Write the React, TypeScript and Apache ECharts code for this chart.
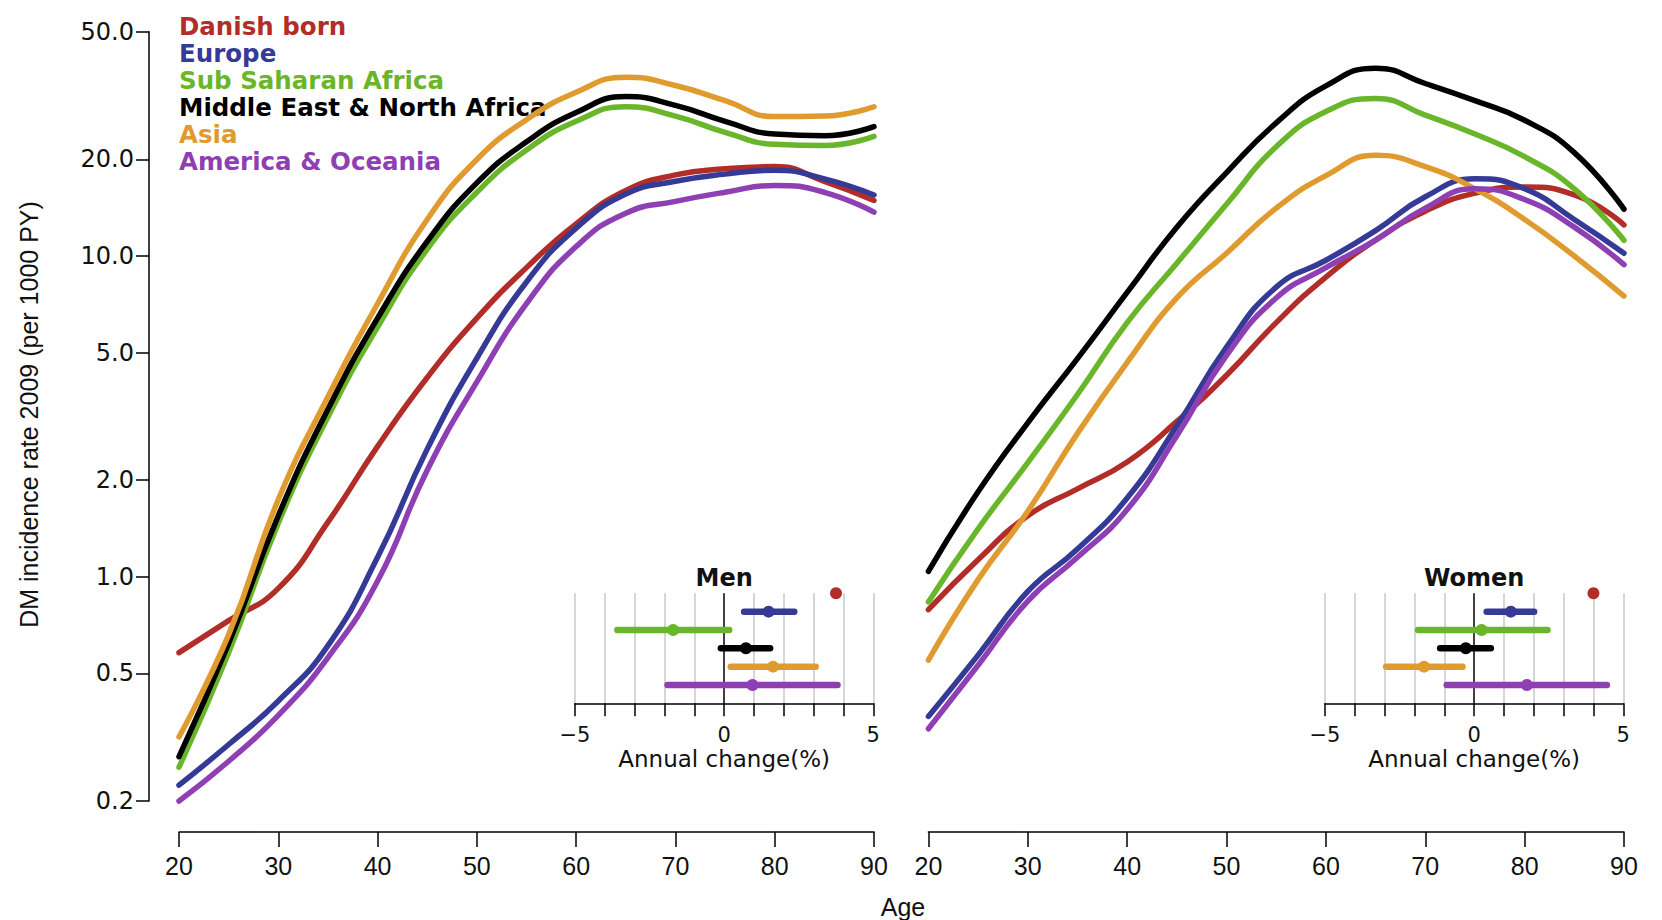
import React, { useEffect, useRef } from 'react';
import * as echarts from 'echarts';

// ---------- data ----------
const ages = [20, 25, 30, 35, 40, 45, 50, 55, 60, 65, 70, 75, 80, 85, 90];

const groupNames = [
  'Danish born',
  'Europe',
  'Sub Saharan Africa',
  'Middle East & North Africa',
  'Asia',
  'America & Oceania',
];
const groupColors = ['#B22D28', '#343A96', '#6AB62A', '#000000', '#E09B30', '#8E3FB3'];

// Men: DM incidence rate 2009 (per 1000 PY)
const menDanish = [0.58, 0.73, 0.92, 1.48, 2.55, 4.18, 6.4, 9.2, 12.6, 16.0, 17.9, 18.7, 19.0, 17.1, 14.9];
const menEurope = [0.224, 0.3, 0.41, 0.61, 1.15, 2.5, 4.8, 8.3, 12.2, 15.6, 17.1, 18.0, 18.5, 17.4, 15.5];
const menSSA = [0.255, 0.58, 1.47, 3.15, 6.0, 10.5, 15.8, 21.4, 26.3, 29.2, 27.3, 24.3, 22.3, 22.1, 23.6];
const menMENA = [0.275, 0.62, 1.55, 3.33, 6.4, 11.1, 16.9, 22.7, 28.0, 31.4, 29.5, 26.3, 24.0, 23.7, 25.3];
const menAsia = [0.317, 0.66, 1.74, 3.64, 7.1, 13.0, 20.0, 26.6, 32.4, 36.1, 34.0, 30.5, 27.2, 27.3, 29.2];
const menAmerica = [0.2, 0.266, 0.37, 0.56, 0.97, 2.15, 4.05, 7.1, 10.7, 13.6, 14.8, 15.8, 16.6, 15.8, 13.7];

// Women
const womenDanish = [0.79, 1.13, 1.55, 1.88, 2.28, 3.05, 4.25, 6.2, 8.6, 11.2, 13.8, 15.7, 16.4, 15.5, 12.5];
const womenEurope = [0.367, 0.57, 0.9, 1.22, 1.76, 2.95, 5.2, 8.0, 9.7, 12.0, 15.3, 17.4, 16.2, 13.0, 10.2];
const womenSSA = [0.835, 1.41, 2.27, 3.7, 6.2, 9.5, 14.5, 21.9, 28.2, 31.0, 27.5, 24.0, 20.4, 16.2, 11.2];
const womenMENA = [1.04, 1.84, 3.02, 4.79, 7.7, 12.3, 18.2, 26.0, 33.9, 38.5, 34.5, 30.5, 26.5, 21.0, 14.0];
const womenAsia = [0.55, 0.98, 1.6, 2.8, 4.66, 7.4, 10.2, 14.1, 17.8, 20.6, 19.0, 16.2, 13.0, 10.0, 7.5];
const womenAmerica = [0.336, 0.53, 0.84, 1.15, 1.62, 2.75, 4.9, 7.4, 9.2, 11.2, 14.1, 16.2, 15.0, 12.3, 9.4];

const menSeries = [menDanish, menEurope, menSSA, menMENA, menAsia, menAmerica];
const womenSeries = [womenDanish, womenEurope, womenSSA, womenMENA, womenAsia, womenAmerica];

// Annual change (%) with confidence intervals, rows in legend order
const menEst = [3.75, 1.49, -1.71, 0.73, 1.64, 0.95];
const menLo = [3.75, 0.67, -3.58, -0.11, 0.22, -1.9];
const menHi = [3.75, 2.35, 0.17, 1.54, 3.07, 3.8];
const womenEst = [4.0, 1.23, 0.25, -0.28, -1.68, 1.77];
const womenLo = [4.0, 0.42, -1.88, -1.14, -2.95, -0.92];
const womenHi = [4.0, 2.01, 2.46, 0.56, -0.39, 4.45];

const yTicks = [0.2, 0.5, 1, 2, 5, 10, 20, 50];

// ---------- option ----------
const black = '#000';
const axisLineStyle = { color: black, width: 1.5 };

function mainXAxis(gridIndex: number) {
  return {
    type: 'value',
    gridIndex,
    min: 20,
    max: 90,
    interval: 10,
    offset: 31,
    axisLine: { show: true, onZero: false, lineStyle: axisLineStyle },
    axisTick: { show: true, inside: false, length: 15, lineStyle: axisLineStyle },
    axisLabel: {
      show: true,
      margin: 21,
      fontSize: 25,
      fontFamily: 'Liberation Sans',
      color: '#111',
      hideOverlap: false,
      showMinLabel: true,
      showMaxLabel: true,
    },
    splitLine: { show: false },
  };
}

function mainYAxis(gridIndex: number, show: boolean) {
  return {
    type: 'log',
    logBase: 10,
    gridIndex,
    min: 0.2,
    max: 50,
    offset: 30,
    show,
    axisLine: { show: true, onZero: false, lineStyle: axisLineStyle },
    axisTick: { show: true, length: 13, customValues: yTicks, lineStyle: axisLineStyle },
    axisLabel: {
      show: true,
      customValues: yTicks,
      formatter: (v: number) => Number(v).toFixed(1),
      margin: 15,
      fontSize: 24,
      fontFamily: 'DejaVu Sans',
      color: '#111',
    },
    minorTick: { show: false },
    splitLine: { show: false },
  };
}

const insetGridColors = [-5, -4, -3, -2, -1, 0, 1, 2, 3, 4, 5].map((v) => (v === 0 ? '#000000' : '#C8C8C8'));

function insetXAxis(gridIndex: number) {
  return {
    type: 'value',
    gridIndex,
    min: -5,
    max: 5,
    interval: 1,
    axisLine: { show: true, onZero: false, lineStyle: axisLineStyle },
    axisTick: { show: true, length: 13, lineStyle: axisLineStyle },
    axisLabel: {
      show: true,
      margin: 21,
      fontSize: 21,
      fontFamily: 'DejaVu Sans',
      color: '#111',
      showMinLabel: true,
      showMaxLabel: true,
      formatter: (v: number) => (v % 5 === 0 ? (v < 0 ? '\u2212' + Math.abs(v) : String(v)) : ''),
    },
    splitLine: { show: true, showMinLine: true, showMaxLine: true, lineStyle: { color: insetGridColors, width: 1.5 } },
    name: 'Annual change(%)',
    nameLocation: 'middle',
    nameGap: 44,
    nameMoveOverlap: false,
    nameTextStyle: { fontSize: 23, fontFamily: 'DejaVu Sans', color: '#111' },
  };
}

function insetYAxis(gridIndex: number) {
  return { type: 'value', gridIndex, min: 1, max: 7, inverse: true, show: false };
}

function curveSeries(panel: number, values: number[][]) {
  return values.map((vals, s) => ({
    type: 'line',
    name: groupNames[s],
    xAxisIndex: panel,
    yAxisIndex: panel,
    data: ages.map((a, i) => [a, vals[i]]),
    smooth: 0.5,
    showSymbol: false,
    symbol: 'none',
    clip: false,
    silent: true,
    z: 2 + s,
    lineStyle: { color: groupColors[s], width: 5.5, cap: 'round' },
    itemStyle: { color: groupColors[s] },
  }));
}

function ciSeries(panel: number, est: number[], lo: number[], hi: number[]) {
  return {
    type: 'custom',
    xAxisIndex: panel,
    yAxisIndex: panel,
    silent: true,
    z: 10,
    encode: { x: [1, 2, 3], y: 0 },
    data: est.map((e, i) => [i + 1, lo[i], hi[i], e]),
    renderItem: (params: any, api: any) => {
      const row = api.value(0);
      const p1 = api.coord([api.value(1), row]);
      const p2 = api.coord([api.value(2), row]);
      const pe = api.coord([api.value(3), row]);
      const color = groupColors[params.dataIndex];
      return {
        type: 'group',
        children: [
          {
            type: 'line',
            shape: { x1: p1[0], y1: p1[1], x2: p2[0], y2: p2[1] },
            style: { stroke: color, lineWidth: 6.5, lineCap: 'round' },
          },
          {
            type: 'circle',
            shape: { cx: pe[0], cy: pe[1], r: 6 },
            style: { fill: color },
          },
        ],
      };
    },
  };
}

const gridCommon = { containLabel: false, outerBoundsMode: 'none', show: false };

function textEl(text: string, x: number, y: number, font: string, extra: any = {}) {
  return {
    type: 'text',
    x,
    y,
    ...extra,
    style: {
      text,
      font,
      fill: '#111',
      textAlign: 'center',
      textVerticalAlign: 'middle',
      align: 'center',
      verticalAlign: 'middle',
    },
  };
}

const option: any = {
  animation: false,
  backgroundColor: '#ffffff',
  grid: [
    { ...gridCommon, left: 179, top: 31.8, width: 695, height: 769.2 },
    { ...gridCommon, left: 928.4, top: 31.8, width: 695.6, height: 769.2 },
    { ...gridCommon, left: 575, top: 593.3, width: 298.3, height: 110 },
    { ...gridCommon, left: 1325, top: 593.3, width: 298.3, height: 110 },
  ],
  xAxis: [mainXAxis(0), mainXAxis(1), insetXAxis(2), insetXAxis(3)],
  yAxis: [mainYAxis(0, true), mainYAxis(1, false), insetYAxis(2), insetYAxis(3)],
  legend: {
    show: true,
    orient: 'vertical',
    left: 174,
    top: 13,
    padding: 0,
    itemGap: 0,
    itemWidth: 0,
    itemHeight: 10,
    icon: 'none',
    selectedMode: false,
    data: groupNames.map((n, i) => ({ name: n, textStyle: { color: groupColors[i] } })),
    textStyle: { fontSize: 24.5, fontWeight: 'bold', fontFamily: 'DejaVu Sans', lineHeight: 27 },
  },
  graphic: [
    textEl('Men', 724.2, 578, 'bold 24px "DejaVu Sans"'),
    textEl('Women', 1474.2, 578, 'bold 24px "DejaVu Sans"'),
    textEl('Age', 903, 907, '25px "Liberation Sans"'),
    textEl('DM incidence rate 2009 (per 1000 PY)', 28.6, 414.5, '25px "Liberation Sans"', { rotation: Math.PI / 2 }),
  ],
  series: [
    ...curveSeries(0, menSeries),
    ...curveSeries(1, womenSeries),
    ciSeries(2, menEst, menLo, menHi),
    ciSeries(3, womenEst, womenLo, womenHi),
  ],
};

export default function App() {
  const ref = useRef<HTMLDivElement>(null);
  useEffect(() => {
    if (!ref.current) return;
    const chart = echarts.init(ref.current, null, { renderer: 'svg' });
    chart.setOption(option);
    return () => {
      chart.dispose();
    };
  }, []);
  return (
    <div
      ref={ref}
      style={{ position: 'fixed', left: 0, top: 0, width: 1662, height: 920, background: '#fff' }}
    />
  );
}
